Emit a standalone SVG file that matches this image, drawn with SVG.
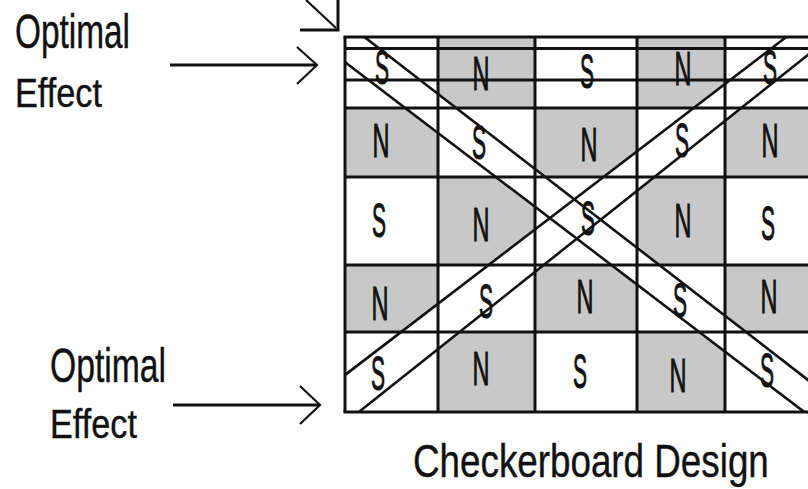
<svg xmlns="http://www.w3.org/2000/svg" width="808" height="489" viewBox="0 0 808 489">
<style>
.bg{fill:#ffffff}
.n{fill:#c8c8c8}
.g{stroke:#111;stroke-width:3;fill:none}
.d{stroke:#111;stroke-width:2.6;fill:none}
.a{stroke:#111;stroke-width:3;fill:none}
.ah{stroke:#111;stroke-width:2.2;fill:none}
.L{font-family:"Liberation Sans",Arial,sans-serif;font-size:48px;fill:#111;stroke:#111;stroke-width:1;text-anchor:middle}
.T{font-family:"Liberation Sans",Arial,sans-serif;fill:#111;stroke:#111;stroke-width:0.4}
</style>
<defs>
<clipPath id="gridclip"><rect x="345" y="37" width="485" height="375"/></clipPath>
</defs>
<rect class="bg" x="0" y="0" width="808" height="489"/>
<g id="board">
  <g id="cells">
    <rect class="n" x="438" y="37" width="97" height="71"/>
    <rect class="n" x="637" y="37" width="88" height="71"/>
    <rect class="n" x="345" y="108" width="93" height="69"/>
    <rect class="n" x="535" y="108" width="102" height="69"/>
    <rect class="n" x="725" y="108" width="105" height="69"/>
    <rect class="n" x="438" y="177" width="97" height="88"/>
    <rect class="n" x="637" y="177" width="88" height="88"/>
    <rect class="n" x="345" y="265" width="93" height="67"/>
    <rect class="n" x="535" y="265" width="102" height="67"/>
    <rect class="n" x="725" y="265" width="105" height="67"/>
    <rect class="n" x="438" y="332" width="97" height="80"/>
    <rect class="n" x="637" y="332" width="88" height="80"/>
  </g>
  <g id="bands" clip-path="url(#gridclip)">
    <polygon class="bg" points="330,10.4 830,397 830,431.6 330,50.6"/>
    <polygon class="bg" points="330,386.5 830,3.5 830,37.4 330,434.9"/>
  </g>
  <g id="letters">
    <text class="L" x="382" y="84" textLength="14" lengthAdjust="spacingAndGlyphs">S</text>
    <text class="L" x="481" y="90" textLength="17" lengthAdjust="spacingAndGlyphs">N</text>
    <text class="L" x="587" y="88" textLength="14" lengthAdjust="spacingAndGlyphs">S</text>
    <text class="L" x="683" y="85" textLength="17" lengthAdjust="spacingAndGlyphs">N</text>
    <text class="L" x="770" y="84" textLength="14" lengthAdjust="spacingAndGlyphs">S</text>

    <text class="L" x="381" y="157" textLength="17" lengthAdjust="spacingAndGlyphs">N</text>
    <text class="L" x="479" y="159" textLength="14" lengthAdjust="spacingAndGlyphs">S</text>
    <text class="L" x="589" y="161" textLength="17" lengthAdjust="spacingAndGlyphs">N</text>
    <text class="L" x="682" y="157" textLength="14" lengthAdjust="spacingAndGlyphs">S</text>
    <text class="L" x="770" y="157" textLength="17" lengthAdjust="spacingAndGlyphs">N</text>

    <text class="L" x="379" y="237" textLength="14" lengthAdjust="spacingAndGlyphs">S</text>
    <text class="L" x="481" y="241" textLength="17" lengthAdjust="spacingAndGlyphs">N</text>
    <text class="L" x="588" y="235" textLength="14" lengthAdjust="spacingAndGlyphs">S</text>
    <text class="L" x="683" y="237" textLength="17" lengthAdjust="spacingAndGlyphs">N</text>
    <text class="L" x="768" y="240" textLength="14" lengthAdjust="spacingAndGlyphs">S</text>

    <text class="L" x="380" y="320" textLength="17" lengthAdjust="spacingAndGlyphs">N</text>
    <text class="L" x="486" y="318" textLength="14" lengthAdjust="spacingAndGlyphs">S</text>
    <text class="L" x="585" y="313" textLength="17" lengthAdjust="spacingAndGlyphs">N</text>
    <text class="L" x="680" y="317" textLength="14" lengthAdjust="spacingAndGlyphs">S</text>
    <text class="L" x="769" y="313" textLength="17" lengthAdjust="spacingAndGlyphs">N</text>

    <text class="L" x="378" y="390" textLength="14" lengthAdjust="spacingAndGlyphs">S</text>
    <text class="L" x="481" y="385" textLength="17" lengthAdjust="spacingAndGlyphs">N</text>
    <text class="L" x="580" y="388" textLength="14" lengthAdjust="spacingAndGlyphs">S</text>
    <text class="L" x="678" y="392" textLength="17" lengthAdjust="spacingAndGlyphs">N</text>
    <text class="L" x="767" y="387" textLength="14" lengthAdjust="spacingAndGlyphs">S</text>
  </g>
  <g id="gridlines">
    <path class="g" d="M345,37V412M438,37V412M535,37V412M637,37V412M725,37V412"/>
    <path class="g" d="M343.5,37H808M345,48.5H808M345,80H808M345,108H808M345,177H808M345,265H808M345,332H808M343.5,412H808"/>
  </g>
  <g id="diagonals" clip-path="url(#gridclip)">
    <line class="d" x1="330" y1="10.4" x2="830" y2="397"/>
    <line class="d" x1="330" y1="50.6" x2="830" y2="431.6"/>
    <line class="d" x1="330" y1="386.5" x2="830" y2="3.5"/>
    <line class="d" x1="330" y1="434.9" x2="830" y2="37.4"/>
  </g>
</g>
<g id="connectors">
  <g id="arrow-top">
    <line class="a" x1="170" y1="65" x2="316" y2="65"/>
    <path class="ah" d="M297,47L317,65L297,84"/>
  </g>
  <g id="arrow-bottom">
    <line class="a" x1="173" y1="405" x2="319" y2="405"/>
    <path class="ah" d="M300,386L320,405L300,424"/>
  </g>
  <g id="arrow-corner">
    <line class="ah" x1="306" y1="0" x2="336" y2="28"/>
    <path class="a" d="M300,30H338V0"/>
  </g>
</g>
<g id="label-top">
  <text class="T" x="15" y="48" font-size="49" textLength="115" lengthAdjust="spacingAndGlyphs">Optimal</text>
  <text class="T" x="15" y="107" font-size="40" textLength="87" lengthAdjust="spacingAndGlyphs">Effect</text>
</g>
<g id="label-bottom">
  <text class="T" x="50" y="382" font-size="49" textLength="116" lengthAdjust="spacingAndGlyphs">Optimal</text>
  <text class="T" x="50" y="438" font-size="40" textLength="87" lengthAdjust="spacingAndGlyphs">Effect</text>
</g>
<g id="title">
  <text class="T" font-size="46" transform="translate(413,477) scale(0.8,1)">Checkerboard Design</text>
</g>
</svg>
